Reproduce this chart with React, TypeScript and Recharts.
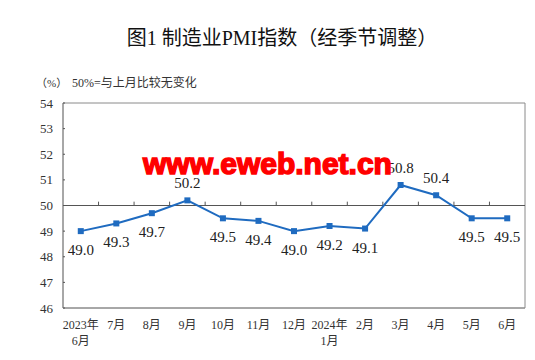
import React from 'react';
import { LineChart, Line, XAxis, YAxis, ReferenceLine, ReferenceArea, LabelList } from 'recharts';

const months: string[] = [
  '2023年\n6月', '7月', '8月', '9月', '10月', '11月', '12月',
  '2024年\n1月', '2月', '3月', '4月', '5月', '6月',
];
const pmiValues: number[] = [49.0, 49.3, 49.7, 50.2, 49.5, 49.4, 49.0, 49.2, 49.1, 50.8, 50.4, 49.5, 49.5];
const yTicks: number[] = [46, 47, 48, 49, 50, 51, 52, 53, 54];
const baseline = 50;
const titleText = '图1  制造业PMI指数（经季节调整）';
const unitText = '（%）';
const noteText = '50%=与上月比较无变化';
const watermarkText = 'www.eweb.net.cn';

const data = months.map((m, i) => ({ month: m, pmi: pmiValues[i] }));

const SERIF = "'Liberation Serif', 'Noto Sans CJK SC', serif";
const LINE_COLOR = '#1f6bc0';

const XTick = (props: any) => {
  const { x, y, payload } = props;
  const lines = String(payload.value).split('\n');
  return (
    <text x={x} y={y} textAnchor="middle" fontFamily={SERIF} fontSize={12} fill="#333">
      {lines.map((l, i) => (
        <tspan key={i} x={x} dy={i === 0 ? 13 : 16}>{l}</tspan>
      ))}
    </text>
  );
};

const SquareDot = (props: any) => {
  const { cx, cy } = props;
  if (cx == null || cy == null) return null;
  return <rect x={cx - 3} y={cy - 3} width={6} height={6} fill={LINE_COLOR} />;
};

const ValueLabel = (props: any) => {
  const { x, y, value } = props;
  const above = value > baseline;
  return (
    <text
      x={x}
      y={above ? y - 17 : y + 19}
      textAnchor="middle"
      dominantBaseline="central"
      fontFamily={SERIF}
      fontSize={15}
      fill="#222"
    >
      {Number(value).toFixed(1)}
    </text>
  );
};

export default function App() {
  return (
    <div style={{ position: 'absolute', left: 0, top: 0, width: 535, height: 360, background: '#fff' }}>
      <LineChart
        width={535}
        height={360}
        data={data}
        margin={{ top: 103, right: 10, bottom: 12, left: 23 }}
      >
        <ReferenceArea y1={46} y2={54} fill="none" stroke="#8a8a8a" strokeWidth={1} />
        <XAxis
          dataKey="month"
          scale="band"
          height={40}
          axisLine={{ stroke: '#8a8a8a' }}
          tickLine={false}
          tick={<XTick />}
          interval={0}
        />
        <YAxis
          domain={[46, 54]}
          ticks={yTicks}
          width={40}
          interval={0}
          axisLine={{ stroke: '#8a8a8a' }}
          tickLine={{ stroke: '#555' }}
          tickSize={-2}
          tickMargin={12}
          tick={{ fontFamily: SERIF, fontSize: 13, fill: '#333' }}
        />
        <ReferenceLine y={baseline} stroke="#555" strokeWidth={1} />
        {months.slice(1).map((m) => (
          <ReferenceLine
            key={m}
            segment={[{ x: m, y: baseline }, { x: m, y: baseline + 0.15 }]}
            position="start"
            stroke="#555"
            strokeWidth={1}
          />
        ))}
        <Line
          type="linear"
          dataKey="pmi"
          stroke={LINE_COLOR}
          strokeWidth={2}
          dot={<SquareDot />}
          activeDot={false}
          isAnimationActive={false}
        >
          <LabelList dataKey="pmi" content={<ValueLabel />} />
        </Line>
      </LineChart>
      <svg
        width={535}
        height={360}
        style={{ position: 'absolute', left: 0, top: 0, pointerEvents: 'none' }}
      >
        <text x={282} y={45} textAnchor="middle" fontFamily={SERIF} fontSize={20} fill="#111">
          {titleText}
        </text>
        <text x={36} y={87} fontFamily={SERIF} fontSize={11} fill="#333">{unitText}</text>
        <text x={72} y={87} fontFamily={SERIF} fontSize={12} fill="#333">{noteText}</text>
        <text
          x={143}
          y={174}
          fontFamily="'Liberation Sans', Arial, sans-serif"
          fontWeight={900}
          fontSize={30}
          fill="#ff0000"
          stroke="#ff0000"
          strokeWidth={1.5}
        >
          {watermarkText}
        </text>
      </svg>
    </div>
  );
}
